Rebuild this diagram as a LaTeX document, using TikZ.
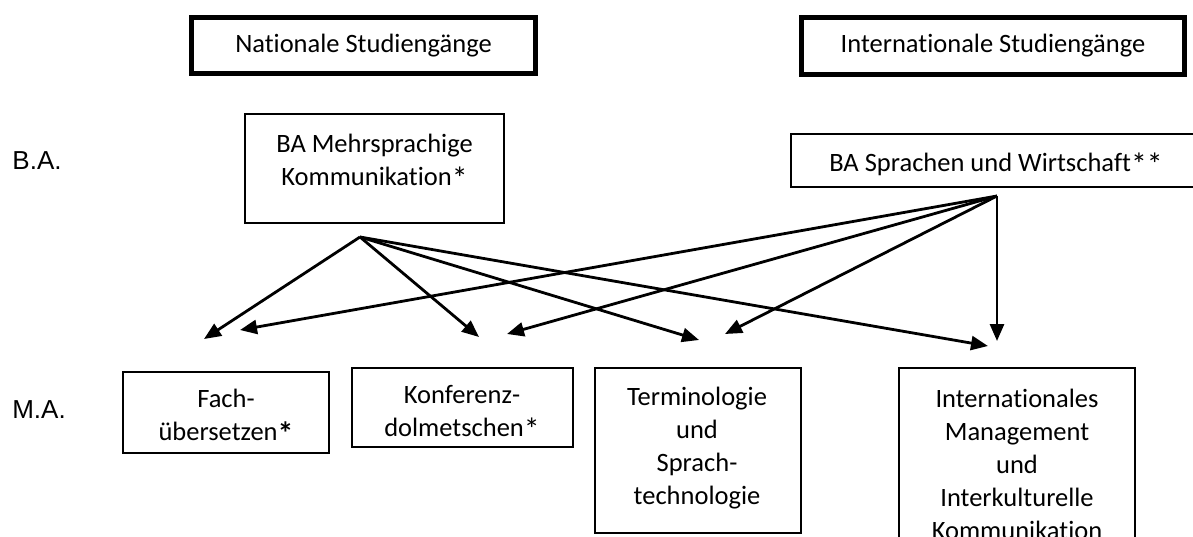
\documentclass[tikz,border=0pt]{standalone}
\usepackage{graphicx}
\usepackage{fontspec}
\setmainfont{Carlito}[Ligatures=NoCommon]
\newfontfamily\arialfont{Liberation Sans}
\newcommand{\stern}{\raisebox{-0.16em}{\scalebox{1.2}{*}}}
\usetikzlibrary{arrows.meta}
\begin{document}
\begin{tikzpicture}[x=1pt,y=-1pt,
  box/.style={draw, line width=1.5pt, inner sep=0pt},
  headbox/.style={draw, line width=5pt, inner sep=0pt, font=\fontsize{26.5}{33}\selectfont},
  txt/.style={font=\fontsize{26.5}{33}\selectfont, align=center, inner sep=0pt},
  lvl/.style={font=\arialfont\fontsize{26}{31}\selectfont, inner sep=0pt},
  arr/.style={line width=2.8pt, -{Triangle[length=17pt,width=14pt]}}]
\useasboundingbox (0,0) rectangle (1193,536);
\clip (0,0) rectangle (1193,536);
\fill[white] (0,0) rectangle (1193,536);
% header boxes
\node[headbox, minimum width=344pt, minimum height=56pt] (nat) at (363.5,45.5) {Nationale Studiengänge};
\node[headbox, minimum width=383pt, minimum height=57pt] (intl) at (993,46) {Internationale Studiengänge};
% level labels
\node[lvl] (ba) at (37,161) {B.A.};
\node[lvl] (ma) at (39,410) {M.A.};
% BA boxes
\node[box, minimum width=259pt, minimum height=109pt] (ba1) at (374.5,168.5) {};
\node[txt] (ba1t) at (374.5,162) {BA Mehrsprachige\\Kommunikation\stern};
\node[box, minimum width=439pt, minimum height=53pt] (ba2) at (1010.5,160.5) {};
\node[txt] (ba2t) at (996,164) {BA Sprachen und Wirtschaft\stern\stern};
% MA boxes
\node[box, minimum width=206pt, minimum height=81pt] (fach) at (226,412.5) {};
\node[txt] (facht) at (226,417) {Fach-\\übersetzen\textbf{\stern}};
\node[box, minimum width=221pt, minimum height=79pt] (konf) at (462.5,407.5) {};
\node[txt] (konft) at (462,413) {Konferenz-\\dolmetschen\stern};
\node[box, minimum width=206pt, minimum height=165pt] (term) at (698,450.5) {};
\node[txt] (termt) at (697,448) {Terminologie\\und\\Sprach-\\technologie};
\node[box, minimum width=236pt, minimum height=212pt] (intm) at (1017,474) {};
\node[txt] (intmt) at (1017,464) {Internationales\\Management\\und\\Interkulturelle\\Kommunikation};
% arrow origins and tips
\coordinate (o1) at (360,237);
\coordinate (o2) at (997,196);
\coordinate (f1) at (204,339);
\coordinate (f2) at (240,330);
\coordinate (k1) at (479,337);
\coordinate (k2) at (507,334);
\coordinate (t1) at (699,340);
\coordinate (t2) at (725,334);
\coordinate (i1) at (988,346);
\coordinate (i2) at (997,341);
\draw[arr] (o1) -- (f1);
\draw[arr] (o1) -- (k1);
\draw[arr] (o1) -- (t1);
\draw[arr] (o1) -- (i1);
\draw[arr] (o2) -- (f2);
\draw[arr] (o2) -- (k2);
\draw[arr] (o2) -- (t2);
\draw[arr] (o2) -- (i2);
\end{tikzpicture}
\end{document}
